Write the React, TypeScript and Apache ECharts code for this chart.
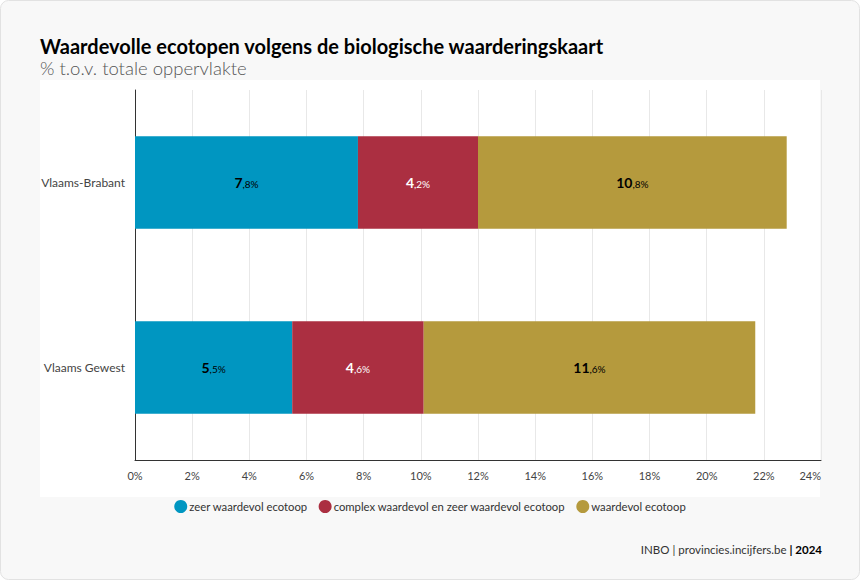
import React, { useEffect, useRef } from "react";
import * as echarts from "echarts";

const categories = ["Vlaams-Brabant", "Vlaams Gewest"];
const seriesNames = [
  "zeer waardevol ecotoop",
  "complex waardevol en zeer waardevol ecotoop",
  "waardevol ecotoop",
];
const zeerWaardevol = [7.8, 5.5];
const complexWaardevol = [4.2, 4.6];
const waardevol = [10.8, 11.6];
const colors = ["#0096c1", "#ab2f41", "#b59a3d"];
const labelColors = ["#000", "#fff", "#000"];

const FONT = "Lato, 'Open Sans', sans-serif";

export default function App() {
  const ref = useRef<HTMLDivElement>(null);
  useEffect(() => {
    document.body.style.margin = "0";
    const chart = echarts.init(ref.current!, null, { renderer: "svg" });
    const data = [zeerWaardevol, complexWaardevol, waardevol];
    const fmt = (p: any) => {
      const s = Number(p.value).toFixed(1).split(".");
      return `{a|${s[0]}}{b|,${s[1]}%}`;
    };
    chart.setOption({
      animation: false,
      textStyle: { fontFamily: FONT },
      graphic: [
        {
          type: "rect",
          z: -20,
          shape: { x: 0.5, y: 0.5, width: 859, height: 579, r: 8 },
          style: { fill: "#f8f8f8", stroke: "#e2e2e2", lineWidth: 1 },
        },
        {
          type: "rect",
          z: -19,
          shape: { x: 40, y: 80, width: 780, height: 417 },
          style: { fill: "#ffffff" },
        },
        {
          type: "text",
          right: 38,
          top: 543,
          style: {
            text: "{n|INBO | provincies.incijfers.be }{s|| 2024}",
            rich: {
              n: { fontSize: 11.5, fill: "#333", fontFamily: FONT },
              s: { fontSize: 11.5, fill: "#000", fontWeight: "bold", fontFamily: FONT },
            },
          },
        },
      ],
      title: {
        left: 40,
        top: 36,
        padding: 0,
        text: "Waardevolle ecotopen volgens de biologische waarderingskaart",
        subtext: "% t.o.v. totale oppervlakte",
        itemGap: 2,
        textStyle: { fontSize: 20, fontWeight: "bold", color: "#000", fontFamily: FONT },
        subtextStyle: { fontSize: 18.5, fontWeight: 300, color: "#555", fontFamily: FONT },
      },
      legend: {
        bottom: 62,
        left: "center",
        icon: "circle",
        itemWidth: 13,
        itemHeight: 13,
        itemGap: 11,
        textStyle: { fontSize: 11.3, color: "#333", fontFamily: FONT, padding: [0, 0, 0, -3] },
        data: seriesNames,
      },
      grid: { left: 135, right: 39, top: 90, bottom: 120 },
      xAxis: {
        type: "value",
        min: 0,
        max: 24,
        interval: 2,
        axisLine: { show: true, lineStyle: { color: "#333", width: 1 } },
        axisTick: { show: false },
        splitLine: { show: true, lineStyle: { color: "#e8e8e8" } },
        axisLabel: {
          formatter: "{value}%",
          fontSize: 11,
          color: "#444",
          margin: 10,
          alignMaxLabel: "right",
        },
      },
      yAxis: {
        type: "category",
        data: categories,
        inverse: true,
        axisLine: { show: true, lineStyle: { color: "#333", width: 1 } },
        axisTick: { show: false },
        axisLabel: { fontSize: 12, color: "#444", margin: 10 },
      },
      series: seriesNames.map((name, i) => ({
        name,
        type: "bar",
        stack: "total",
        barWidth: "50%",
        data: data[i],
        itemStyle: { color: colors[i] },
        label: {
          show: true,
          position: "inside",
          formatter: fmt,
          rich: {
            a: { fontSize: 14, fontWeight: "bold", color: labelColors[i], fontFamily: FONT },
            b: { fontSize: 10, color: labelColors[i], fontFamily: FONT, padding: [3, 0, 0, 0] },
          },
        },
      })),
    });
    return () => chart.dispose();
  }, []);
  return (
    <div
      ref={ref}
      style={{ position: "absolute", left: 0, top: 0, width: 860, height: 580 }}
    />
  );
}
